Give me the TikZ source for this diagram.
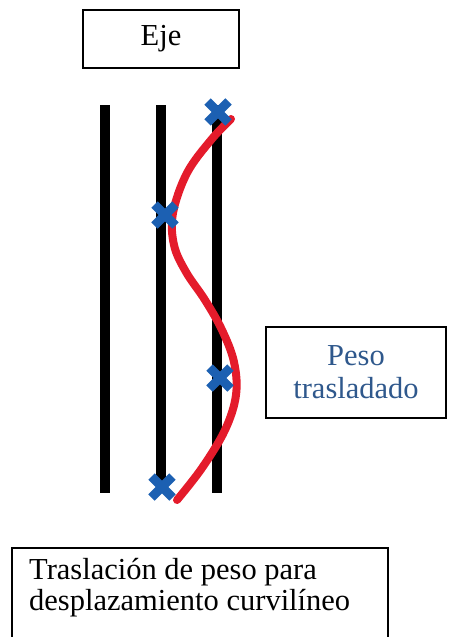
\documentclass[tikz,border=0pt]{standalone}
\usepackage{fontspec}
\setmainfont{Liberation Serif}
\usetikzlibrary{positioning}
\definecolor{rojo}{RGB}{228,27,43}
\definecolor{azul}{RGB}{28,96,178}
\definecolor{azultexto}{RGB}{47,88,140}
\newcommand{\marca}[1]{%
  % #1 = punto donde va la cruz
  \draw[azul, line width=9pt] (#1) ++(-10.5,-10.5) -- ++(21,21);
  \draw[azul, line width=9pt] (#1) ++(-10.5,10.5) -- ++(21,-21);
}

\begin{document}
\begin{tikzpicture}[x=1pt, y=-1pt]
    \tikzset{caja/.style={draw, line width=2pt, inner sep=0pt},
             letra/.style={font=\fontsize{30.5}{33}\selectfont}}

    \useasboundingbox (0,0) rectangle (454,637);
    \clip (0,0) rectangle (454,637);

    \node[caja, letra, minimum width=156pt, minimum height=58pt] (eje) at (161,39) {Eje};

    % tres apoyos verticales
    \foreach \x/\n in {105/a, 161/b, 217/c} {
        \coordinate (\n top) at (\x, 105);
        \coordinate (\n bot) at (\x, 493);
        \draw[line width=10pt] (\n top) -- (\n bot);
    }

    \coordinate (P1) at (218, 112);
    \coordinate (P2) at (165, 215);
    \coordinate (P3) at (220, 378);
    \coordinate (P4) at (162, 487);

    % recorrido del peso
    \draw[rojo, line width=8pt, line cap=round] plot[smooth, tension=0.6] coordinates {
        (231,119) (211,140) (187,173) (173,213) (174,245) (186,272)
        (205,300) (222,330) (234,362) (236,395) (225,430) (202,468) (177,500)};

    \marca{P1}
    \marca{P2}
    \marca{P3}
    \marca{P4}

    \node[caja, letra, minimum width=180pt, minimum height=91pt, align=center, text=azultexto] (peso) at (356,372.5) {Peso\\trasladado};

    \node[letra, anchor=north west, align=left, inner sep=0pt, font=\fontsize{30.5}{31}\selectfont] (traslacion) at (29,558)
        {Traslación de peso para\\desplazamiento curvilíneo};
    \draw[line width=2pt] (12,660) |- (388,548) -- (388,660);
\end{tikzpicture}
\end{document}
